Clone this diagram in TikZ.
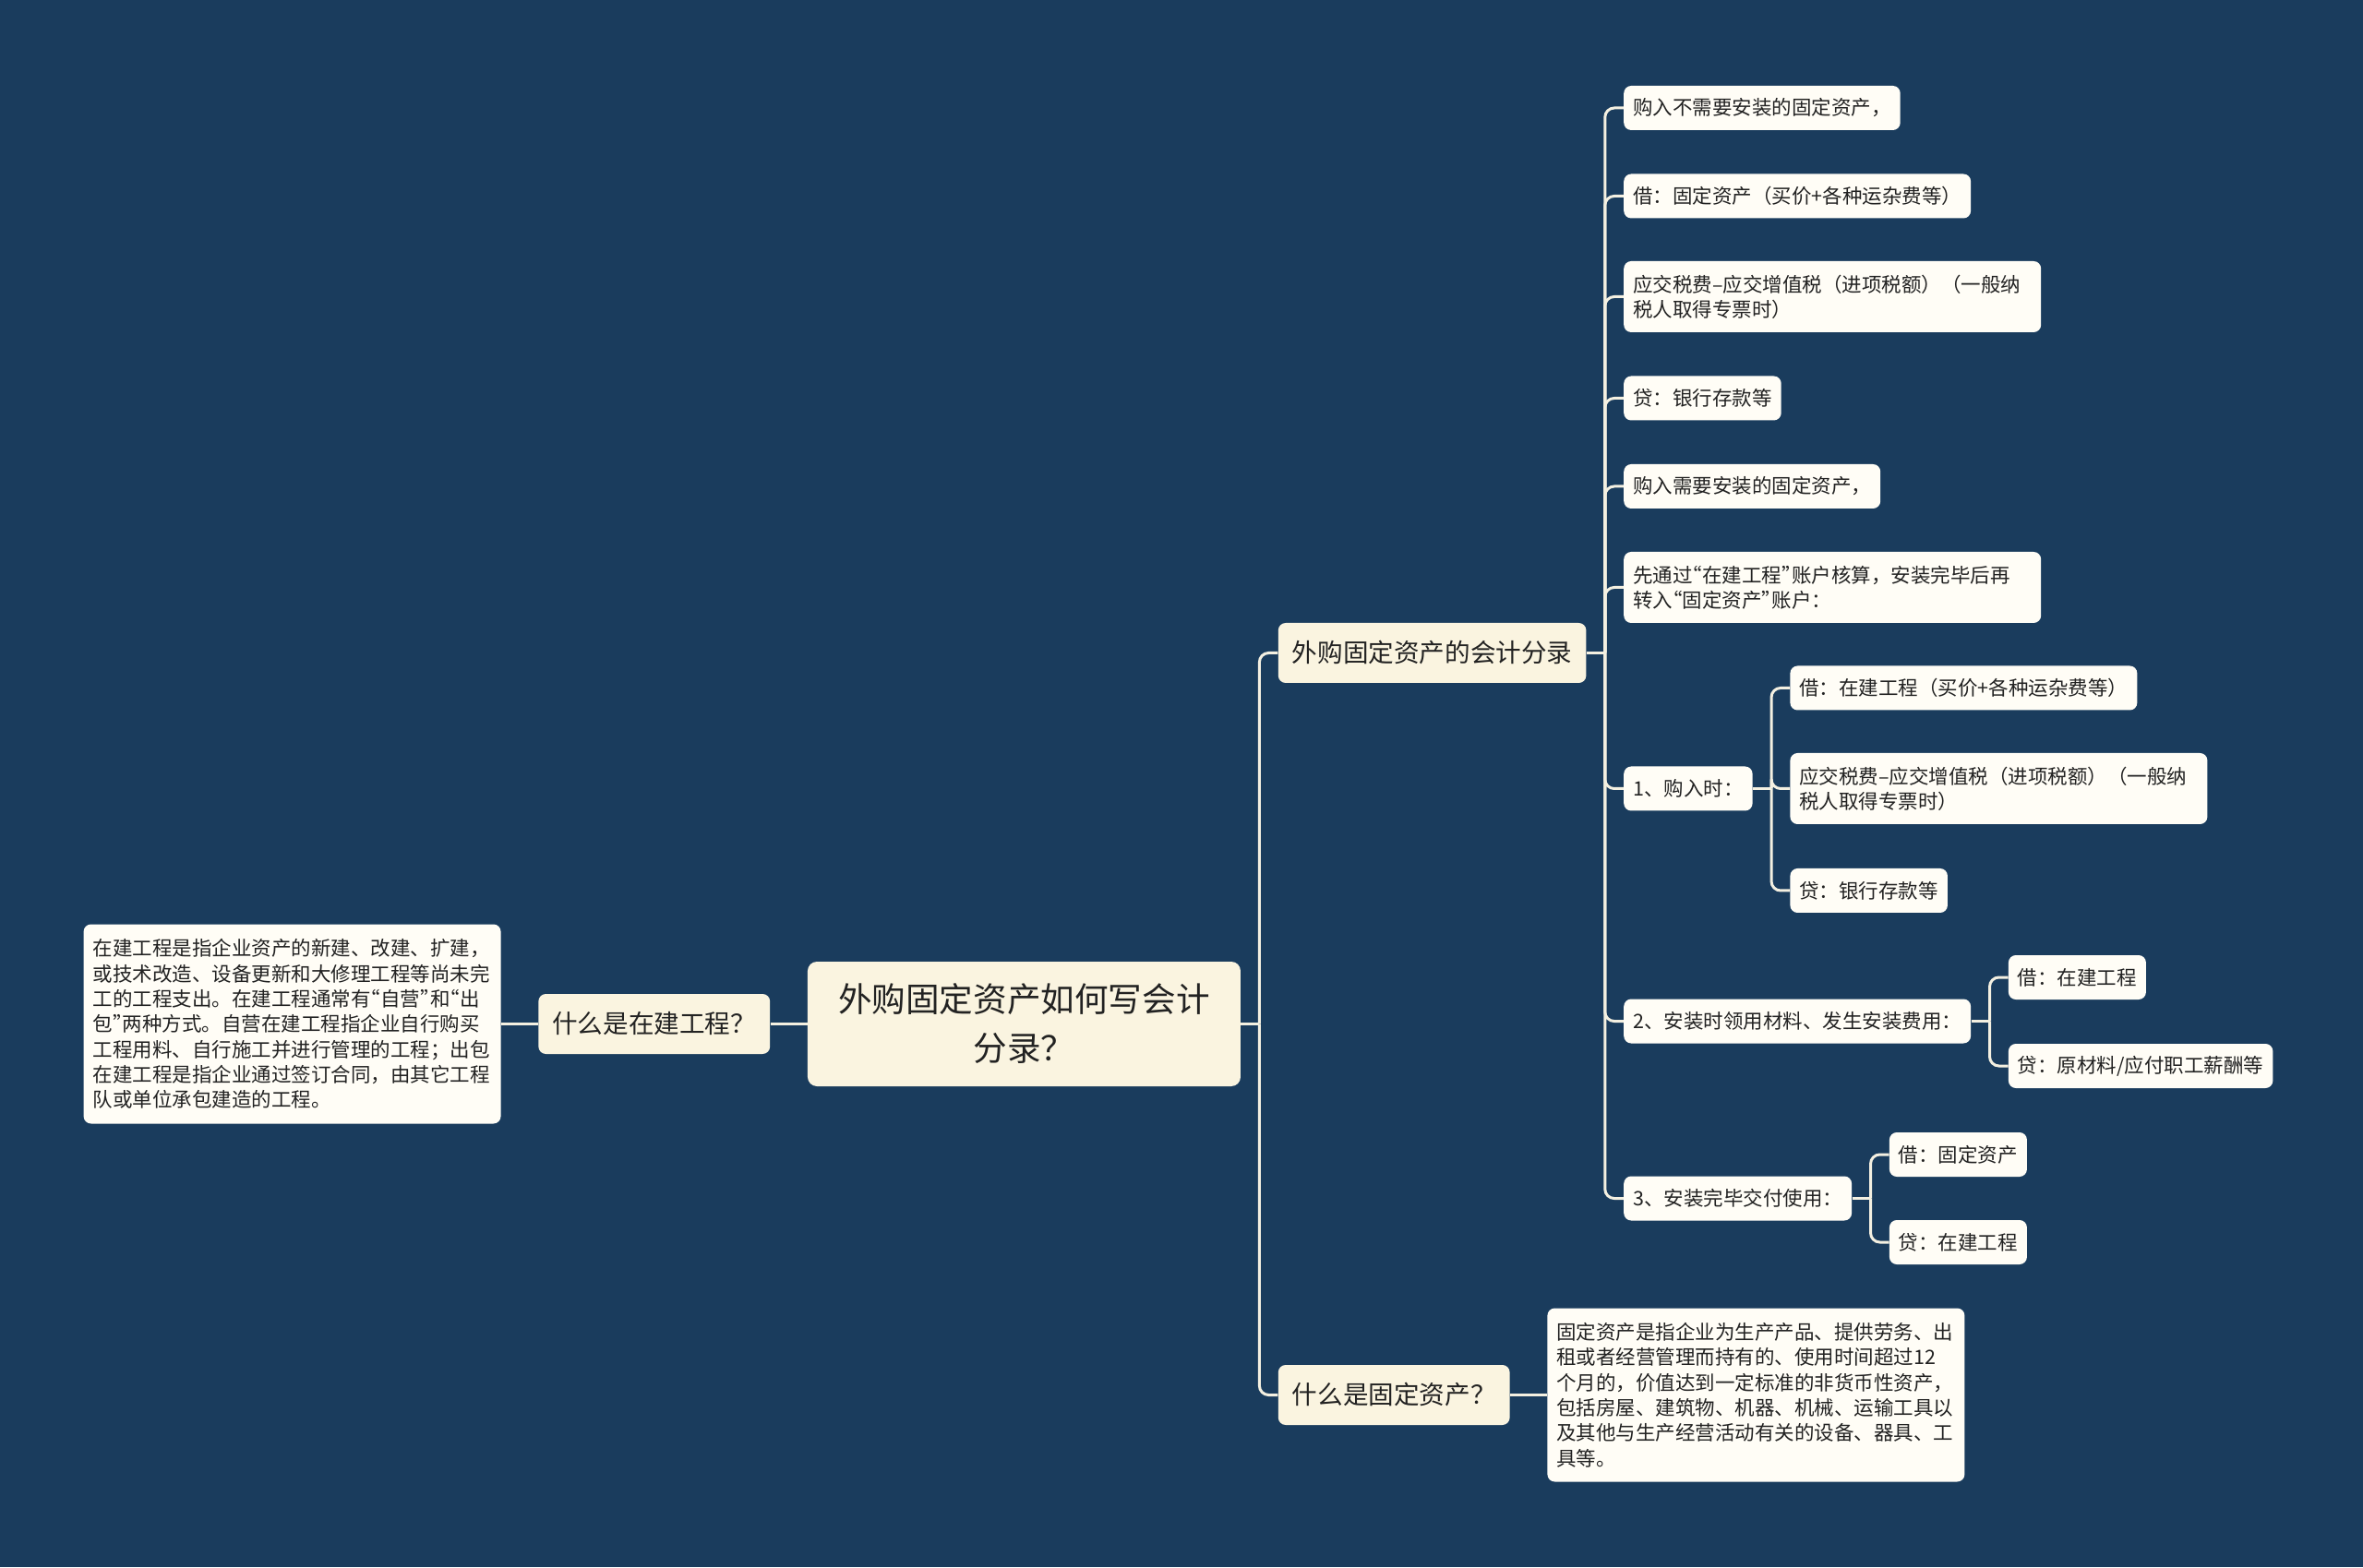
\documentclass[tikz,border=0pt]{standalone}
\usepackage{fontspec}
\setmainfont{Noto Sans CJK SC}
\newcommand{\qopen}{\makebox[0.5em][r]{“}}
\newcommand{\qclose}{\makebox[0.5em][l]{”}}
\usepackage{tikz}
\usetikzlibrary{positioning}
\definecolor{bgblue}{HTML}{1A3C5D}
\definecolor{topfill}{HTML}{FAF4E0}
\definecolor{leaffill}{HTML}{FFFDF6}
\definecolor{linecream}{HTML}{F4F0E1}
\definecolor{inkgray}{HTML}{222222}

\begin{document}
\begin{tikzpicture}[
        node distance=20pt and 20pt,
        base/.style={rounded corners=4pt, text=inkgray, inner xsep=5pt, inner ysep=0pt},
        mainbox/.style={base, fill=topfill, rounded corners=5pt, align=center, minimum width=234.5pt, minimum height=67.5pt, font=\fontsize{18.3pt}{26.5pt}\selectfont},
        topic/.style={base, fill=topfill, inner xsep=7.5pt, minimum height=32.5pt, font=\fontsize{13.8pt}{17pt}\selectfont},
        leaf/.style={base, fill=leaffill, align=left, minimum height=24pt, font=\fontsize{10.75pt}{13.65pt}\selectfont},
        notebox/.style={leaf, text width=216pt},
        link/.style={draw=linecream, line width=1.5pt, rounded corners=5pt}
    ]
    \fill[bgblue] (-554.75pt,-294.25pt) rectangle (725.25pt,554.75pt);

    \node[mainbox] (root) {外购固定资产如何写会计\\分录？};

    \node[topic, left=of root] (zj) {什么是在建工程？};
    \node[notebox, left=of zj, minimum height=108pt] (zjtxt) {在建工程是指企业资产的新建、改建、扩建，\\或技术改造、设备更新和大修理工程等尚未完\\工的工程支出。在建工程通常有\qopen 自营\qclose 和\qopen 出\\包\qclose 两种方式。自营在建工程指企业自行购买\\工程用料、自行施工并进行管理的工程；出包\\在建工程是指企业通过签订合同，由其它工程\\队或单位承包建造的工程。};

    \node[topic, right=of root, yshift=201pt] (kj) {外购固定资产的会计分录};
    \node[topic, right=of root, yshift=-201pt] (gd) {什么是固定资产？};
    \node[notebox, right=of gd, minimum height=94pt] (gdtxt) {固定资产是指企业为生产产品、提供劳务、出\\租或者经营管理而持有的、使用时间超过12\\个月的，价值达到一定标准的非货币性资产，\\包括房屋、建筑物、机器、机械、运输工具以\\及其他与生产经营活动有关的设备、器具、工\\具等。};

    \node[leaf, right=of kj, yshift=295.25pt] (k1) {购入不需要安装的固定资产，};
    \node[leaf, right=of kj, yshift=247.5pt] (k2) {借：固定资产（买价+各种运杂费等）};
    \node[notebox, right=of kj, yshift=193pt, minimum height=38.5pt] (k3) {应交税费–应交增值税（进项税额）（一般纳\\税人取得专票时）};
    \node[leaf, right=of kj, yshift=138pt] (k4) {贷：银行存款等};
    \node[leaf, right=of kj, yshift=90.25pt] (k5) {购入需要安装的固定资产，};
    \node[notebox, right=of kj, yshift=35.5pt, minimum height=38.5pt] (k6) {先通过\qopen 在建工程\qclose 账户核算，安装完毕后再\\转入\qopen 固定资产\qclose 账户：};
    \node[leaf, right=of kj, yshift=-73.5pt] (k7) {1、购入时：};
    \node[leaf, right=of kj, yshift=-199.5pt] (k8) {2、安装时领用材料、发生安装费用：};
    \node[leaf, right=of kj, yshift=-295.5pt] (k9) {3、安装完毕交付使用：};

    \node[leaf, right=of k7, yshift=54.5pt] (a1) {借：在建工程（买价+各种运杂费等）};
    \node[notebox, right=of k7, minimum height=38.5pt] (a2) {应交税费–应交增值税（进项税额）（一般纳\\税人取得专票时）};
    \node[leaf, right=of k7, yshift=-55.25pt] (a3) {贷：银行存款等};

    \node[leaf, right=of k8, yshift=23.75pt] (b1) {借：在建工程};
    \node[leaf, right=of k8, yshift=-24.25pt] (b2) {贷：原材料/应付职工薪酬等};

    \node[leaf, right=of k9, yshift=23.75pt] (c1) {借：固定资产};
    \node[leaf, right=of k9, yshift=-23.75pt] (c2) {贷：在建工程};

    \draw[link] (root.west) -- (zj.east);
    \draw[link] (zj.west) -- (zjtxt.east);
    \draw[link] (root.east) -- ++(10pt,0) coordinate (rbus);
    \draw[link] (rbus) |- (kj.west); \draw[link] (rbus) |- (gd.west);
    \draw[link] (gd.east) -- (gdtxt.west);

    \draw[link] (kj.east) -- ++(10pt,0) coordinate (kbus);
    \draw[link] (kbus) |- (k1.west); \draw[link] (kbus) |- (k2.west);
    \draw[link] (kbus) |- (k3.west); \draw[link] (kbus) |- (k4.west);
    \draw[link] (kbus) |- (k5.west); \draw[link] (kbus) |- (k6.west);
    \draw[link] (kbus) |- (k7.west); \draw[link] (kbus) |- (k8.west);
    \draw[link] (kbus) |- (k9.west);

    \draw[link] (k7.east) -- ++(10pt,0) coordinate (abus);
    \draw[link] (abus) |- (a1.west); \draw[link] (abus) |- (a2.west);
    \draw[link] (abus) |- (a3.west);
    \draw[link] (k8.east) -- ++(10pt,0) coordinate (bbus);
    \draw[link] (bbus) |- (b1.west); \draw[link] (bbus) |- (b2.west);
    \draw[link] (k9.east) -- ++(10pt,0) coordinate (cbus);
    \draw[link] (cbus) |- (c1.west); \draw[link] (cbus) |- (c2.west);
\end{tikzpicture}
\end{document}
